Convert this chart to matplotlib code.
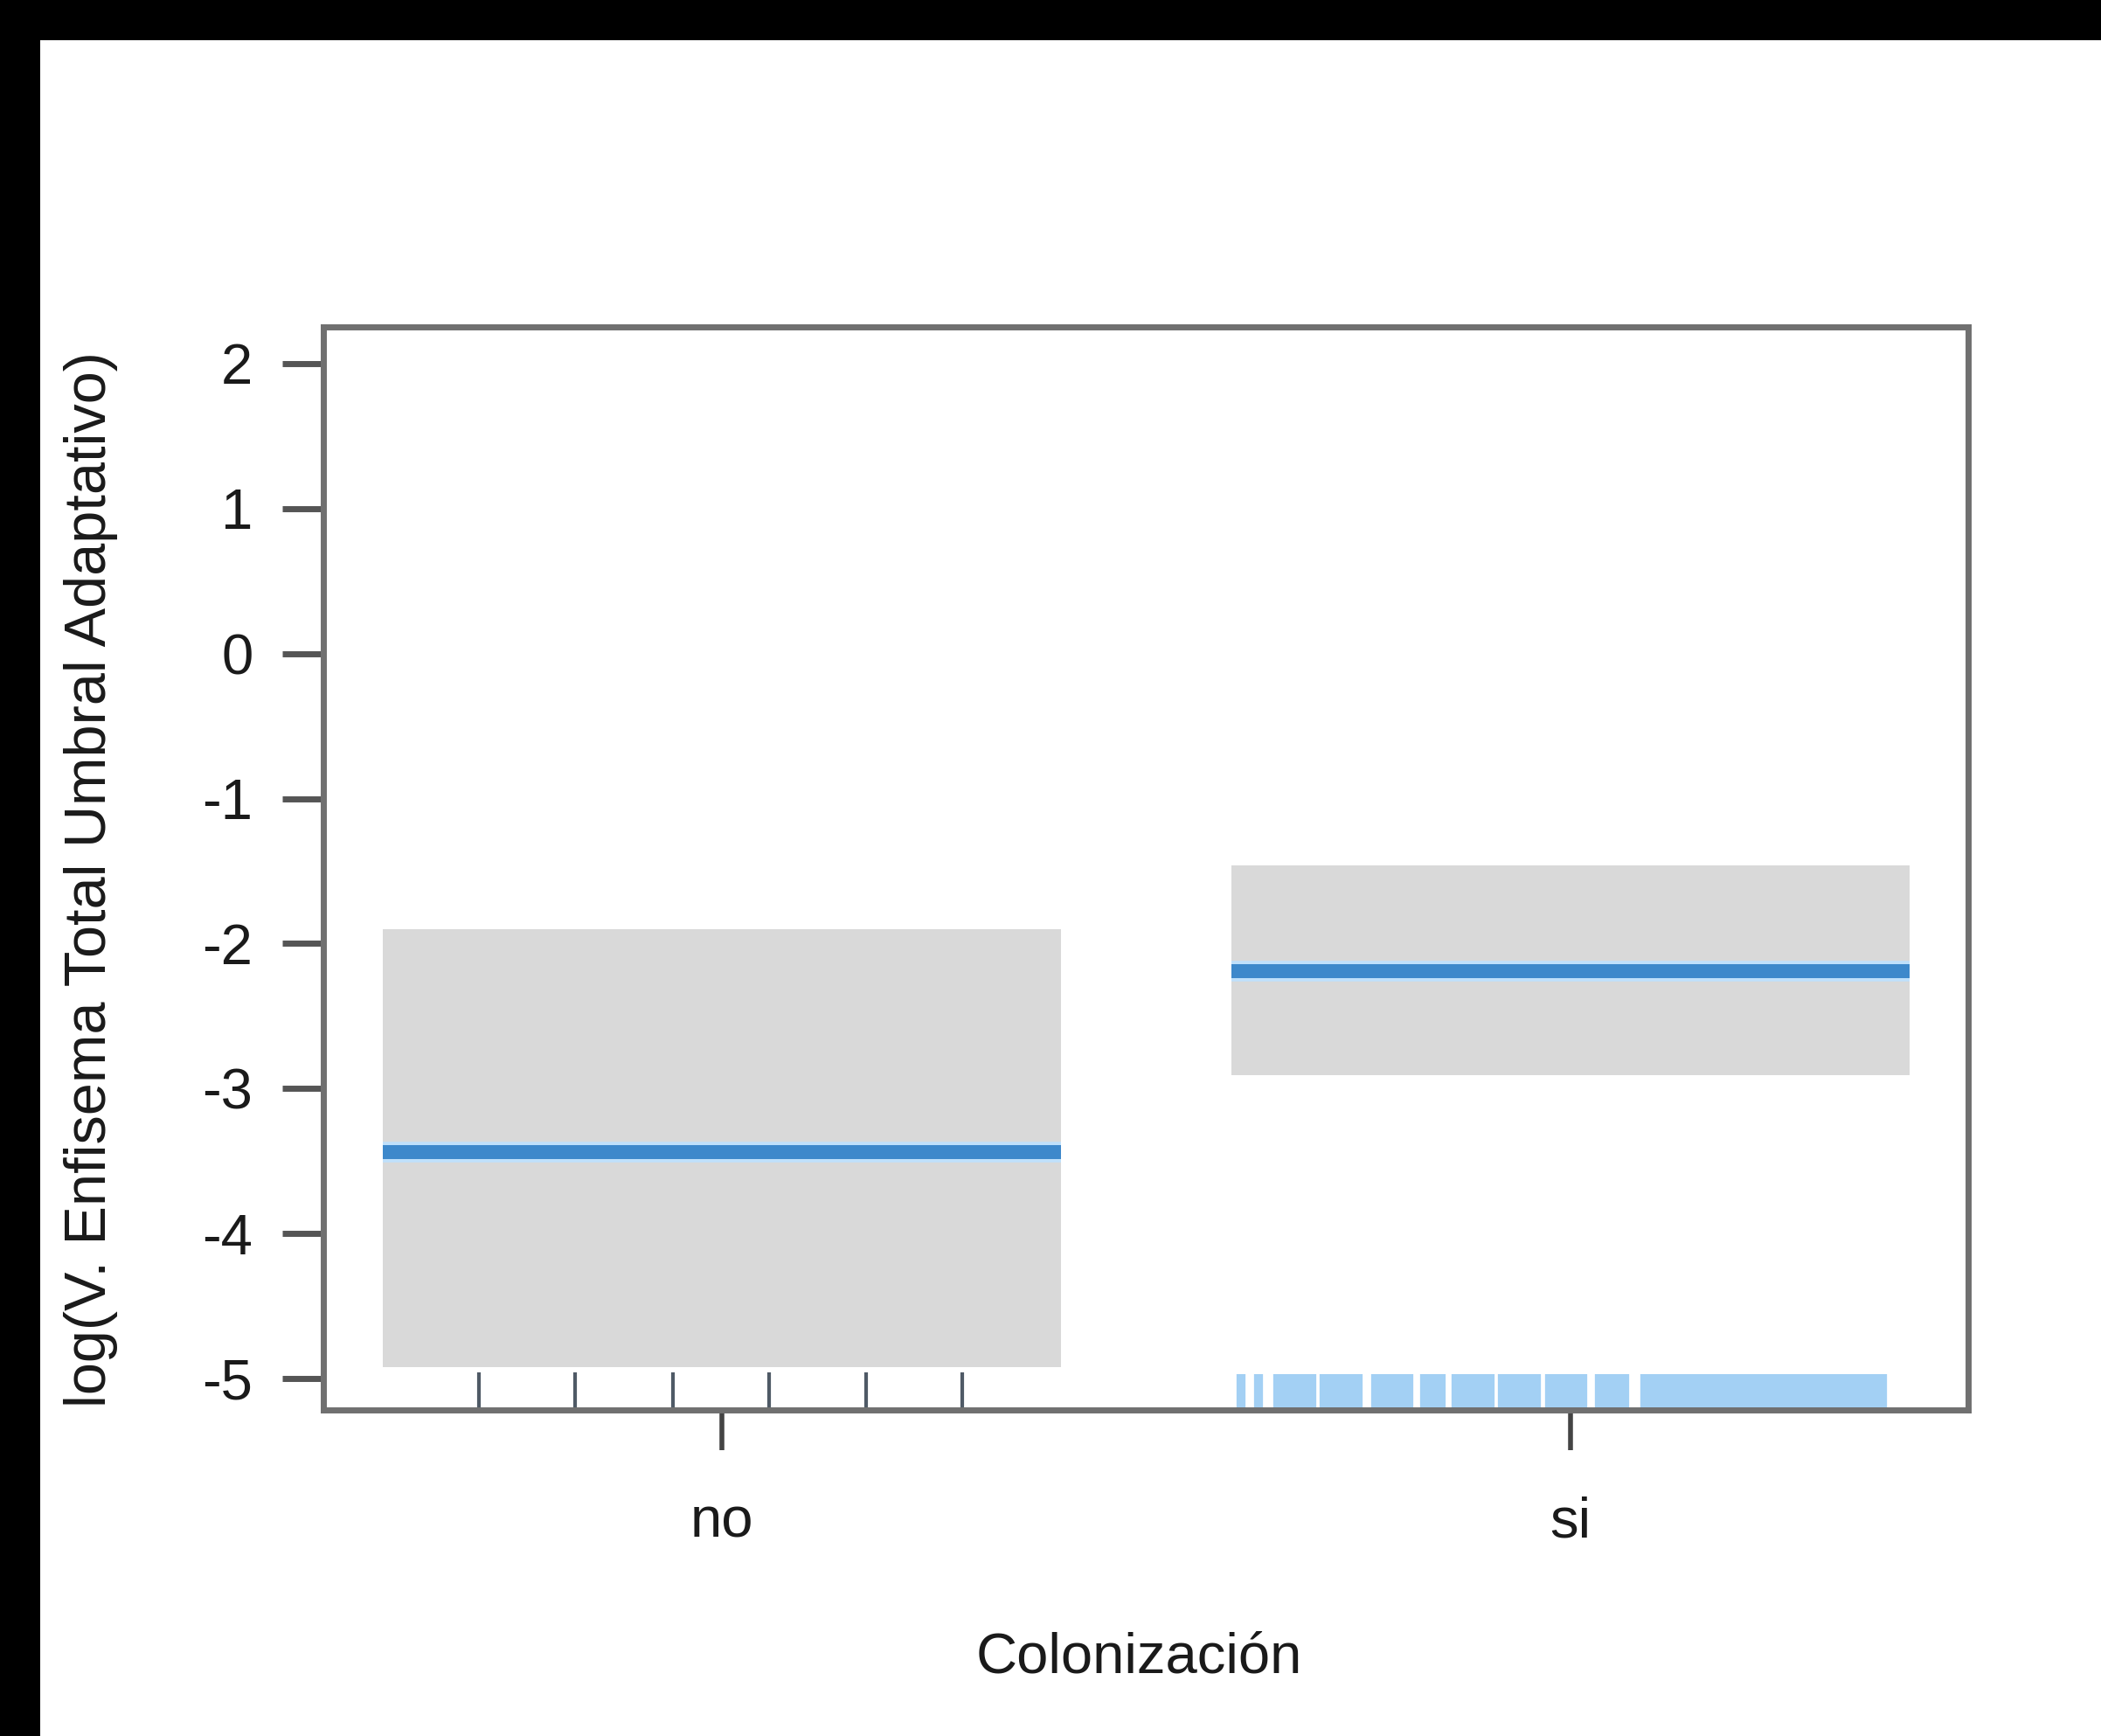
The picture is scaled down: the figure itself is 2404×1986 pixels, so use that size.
import matplotlib
matplotlib.use("Agg")
import matplotlib.pyplot as plt
from matplotlib.patches import Rectangle

# ---- data ----
categories = ["no", "si"]
fit = [-3.44, -2.19]
lower = [-4.92, -2.91]
upper = [-1.90, -1.46]
y_ticks = [2, 1, 0, -1, -2, -3, -4, -5]
rug_no = [0.713, 0.827, 0.942, 1.055, 1.170, 1.283]
rug_si = [1.612, 1.632,
          1.655, 1.665, 1.675, 1.685, 1.695,
          1.710, 1.720, 1.730, 1.740, 1.750,
          1.770, 1.780, 1.790, 1.800, 1.810,
          1.828, 1.838, 1.848,
          1.865, 1.875, 1.885, 1.895, 1.905,
          1.920, 1.930, 1.940, 1.950, 1.960,
          1.975, 1.985, 1.995, 2.005, 2.015,
          2.034, 2.044, 2.054, 2.064,
          2.088, 2.098, 2.108, 2.118, 2.128, 2.138, 2.148, 2.158, 2.168, 2.178,
          2.188, 2.198, 2.208, 2.218, 2.228, 2.238, 2.248, 2.258, 2.268, 2.278,
          2.288, 2.298, 2.308, 2.318, 2.328, 2.338, 2.348, 2.358, 2.368]
x_label = "Colonización"
y_label = "log(V. Enfisema Total Umbral Adaptativo)"

plt.rcParams['font.family'] = ['Liberation Sans', 'DejaVu Sans']

W, H, DPI = 2404, 1986, 100
fig = plt.figure(figsize=(W / DPI, H / DPI), dpi=DPI, facecolor="white")

# black scan border (top and left)
fig.patches.append(Rectangle((0, 1 - 46 / H), 1, 46 / H, transform=fig.transFigure,
                             facecolor="black", edgecolor="none", zorder=10))
fig.patches.append(Rectangle((0, 0), 46 / W, 1, transform=fig.transFigure,
                             facecolor="black", edgecolor="none", zorder=10))

left, right, top, bottom = 370, 2252, 374, 1613
ax = fig.add_axes([left / W, 1 - bottom / H, (right - left) / W, (bottom - top) / H])

xpos = [1, 2]
half = 0.4
ylo, yhi = -5.217, 2.253

for x, lo, hi, f in zip(xpos, lower, upper, fit):
    ax.fill_between([x - half, x + half], [lo, lo], [hi, hi], color="#d9d9d9",
                    linewidth=0, zorder=1)
    ax.plot([x - half, x + half], [f, f], color="#bfe0fb", linewidth=17,
            solid_capstyle="butt", zorder=3)
    ax.plot([x - half, x + half], [f, f], color="#3d88cb", linewidth=11.5,
            solid_capstyle="butt", zorder=4)

ax.vlines(rug_no, ylo, -4.96, color="#4f5a66", linewidth=3, zorder=2)
ax.vlines(rug_si, ylo, -4.97, color="#a3d0f4", linewidth=7.4, zorder=2)

ax.set_xlim(0.53, 2.469)
ax.set_ylim(ylo, yhi)

ax.set_xticks(xpos)
ax.set_xticklabels(categories)
ax.set_yticks(y_ticks)
ax.set_yticklabels([str(v) for v in y_ticks])

for s in ax.spines.values():
    s.set_color("#707070")
    s.set_linewidth(5)

ax.tick_params(axis="y", direction="out", length=34, width=5, color="#555555",
               labelsize=47, pad=24, labelcolor="#1a1a1a")
ax.tick_params(axis="x", direction="out", length=33, width=4, color="#444444",
               labelsize=47, pad=38, labelcolor="#1a1a1a")

ax.set_xlabel(x_label, fontsize=47, color="#1a1a1a")
ax.set_ylabel(y_label, fontsize=48, color="#1a1a1a")
ax.xaxis.set_label_coords((1303 - left) / (right - left), (bottom - 1896) / (bottom - top))
ax.xaxis.label.set_va("center")
ax.yaxis.label.set_va("center")
ax.yaxis.set_label_coords((104 - left) / (right - left), 0.49)

fig.savefig("out.png", dpi=DPI, facecolor="white")
